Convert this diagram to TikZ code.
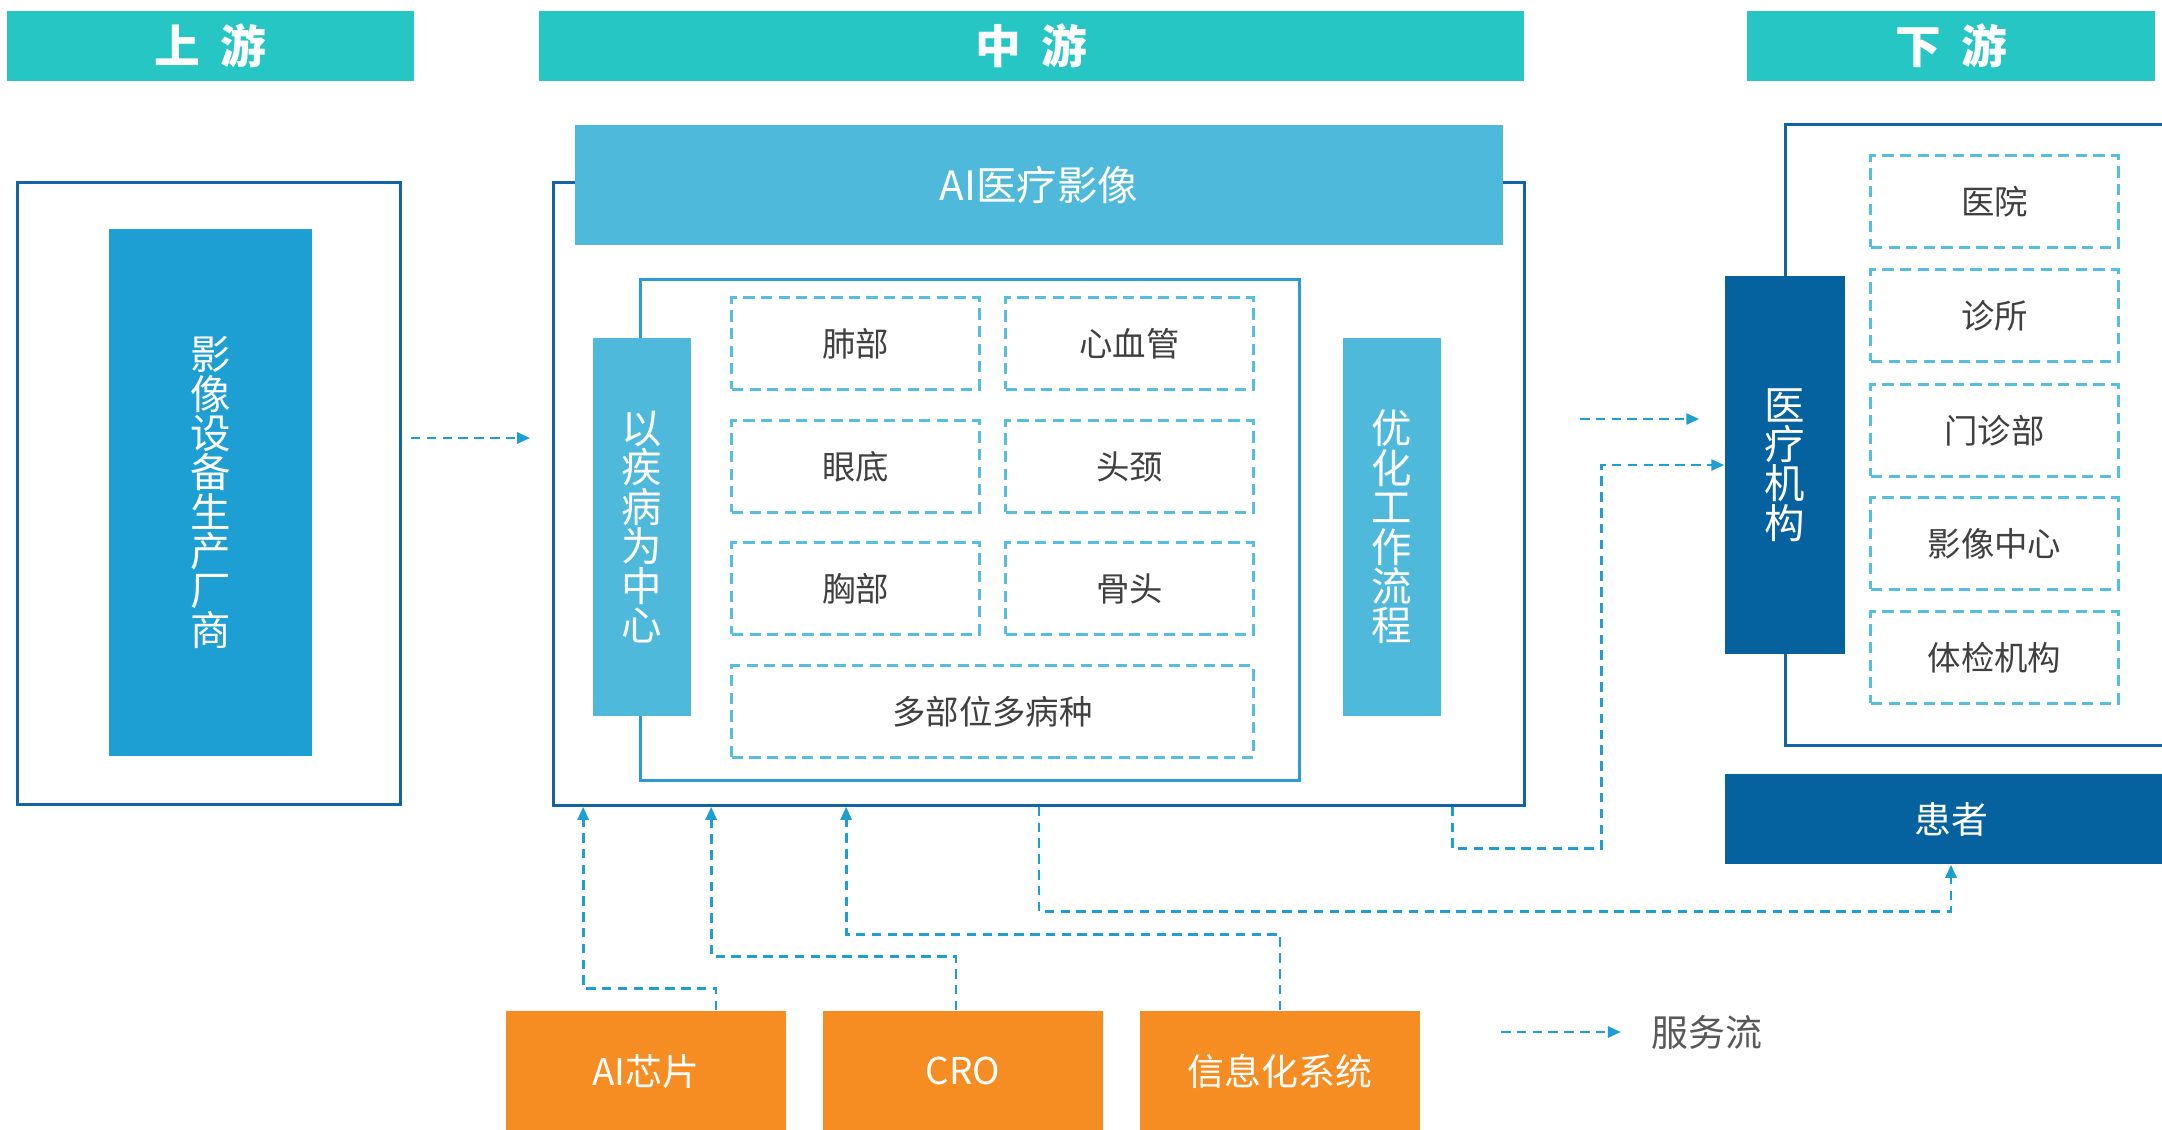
\documentclass[tikz,border=0pt]{standalone}
\usepackage{fontspec}
\setmainfont{Noto Sans CJK SC}
\usetikzlibrary{arrows.meta,positioning,calc}

\definecolor{tealhead}{RGB}{37,198,196}
\definecolor{makerblue}{RGB}{30,159,211}
\definecolor{lightblue}{RGB}{79,185,220}
\definecolor{darkblue}{RGB}{5,98,158}
\definecolor{frameblue}{RGB}{17,101,165}
\definecolor{innerblue}{RGB}{42,155,213}
\definecolor{dashblue}{RGB}{86,190,224}
\definecolor{flowblue}{RGB}{30,159,211}
\definecolor{chiporange}{RGB}{245,141,35}
\definecolor{boxgray}{RGB}{64,64,64}
\definecolor{legendgray}{RGB}{89,89,89}

\tikzset{
  flow/.style={draw=flowblue,line width=0.8pt,dash pattern=on 2.7pt off 1.8pt,
    -{Triangle[length=0.13cm,width=0.11cm]}},
  frame/.style={draw=frameblue,line width=0.9pt,inner sep=0},
  dashbox/.style={draw=dashblue,line width=0.85pt,dash pattern=on 3.2pt off 1.8pt,
    minimum width=2.47cm,minimum height=0.91cm,inner sep=0,text=boxgray,
    font=\fontsize{9.5}{9.5}\selectfont},
  vbar/.style={inner sep=0,text=white,align=center,
    font=\fontsize{11.5}{11.2}\selectfont},
}

\begin{document}
\begin{tikzpicture}[x=0.01cm,y=-0.01cm]
  \useasboundingbox (0,0) rectangle (2162,1129);
  \clip (0,0) rectangle (2162,1129);
  \fill[white] (0,0) rectangle (2162,1129);

  \begin{scope}[every node/.style={fill=tealhead,text=white,inner sep=0,minimum height=0.7cm,
      font=\bfseries\fontsize{13}{13}\selectfont}]
  \node[minimum width=4.07cm] (uphead) at (210.5,46) {上\hspace{0.45em}游};
  \node[minimum width=9.85cm] (midhead) at (1031.5,46) {中\hspace{0.45em}游};
  \node[minimum width=4.08cm] (downhead) at (1951,46) {下\hspace{0.45em}游};
  \end{scope}

  % upstream
  \node[frame,minimum width=3.82cm,minimum height=6.21cm] (upframe) at (209,493.5) {};
  \node[vbar,fill=makerblue,minimum width=2.03cm,minimum height=5.27cm] (maker) at (210.5,492.5)
    {影\\像\\设\\备\\生\\产\\厂\\商};

  % midstream
  \node[frame,minimum width=9.70cm,minimum height=6.22cm] (midframe) at (1039,494) {};
  \node[fill=lightblue,text=white,minimum width=9.28cm,minimum height=1.20cm,inner sep=0,
    font=\fontsize{11.5}{11.5}\selectfont] (banner) at (1039,185) {AI医疗影像};
  \node[draw=innerblue,line width=0.8pt,minimum width=6.58cm,minimum height=5.00cm,inner sep=0]
    (inner) at (970,530) {};
  \node[vbar,fill=lightblue,minimum width=0.98cm,minimum height=3.78cm] (disease) at (642,527)
    {以\\疾\\病\\为\\中\\心};
  \node[vbar,fill=lightblue,minimum width=0.98cm,minimum height=3.78cm] (workflow) at (1392,527)
    {优\\化\\工\\作\\流\\程};
  \begin{scope}[every node/.style={dashbox}]
  \node (lung) at (855.5,343.5) {肺部};
  \node (heart) at (1129.5,343.5) {心血管};
  \node (fundus) at (855.5,466.5) {眼底};
  \node (headneck) at (1129.5,466.5) {头颈};
  \node (chest) at (855.5,588.5) {胸部};
  \node (bone) at (1129.5,588.5) {骨头};
  \node[minimum width=5.21cm] (multi) at (992.5,711.5) {多部位多病种};
  \end{scope}

  % downstream
  \node[frame,minimum width=3.89cm,minimum height=6.20cm] (downframe) at (1980.5,435) {};
  \node[vbar,fill=darkblue,minimum width=1.20cm,minimum height=3.78cm] (inst) at (1785,465)
    {医\\疗\\机\\构};
  \begin{scope}[every node/.style={dashbox}]
  \node (hospital) at (1994.5,201.5) {医院};
  \node (clinic) at (1994.5,315.5) {诊所};
  \node (outpatient) at (1994.5,430.5) {门诊部};
  \node (imgcenter) at (1994.5,543.5) {影像中心};
  \node (checkup) at (1994.5,657.5) {体检机构};
  \end{scope}
  \node[fill=darkblue,text=white,minimum width=4.52cm,minimum height=0.90cm,inner sep=0,
    font=\fontsize{10.5}{10.5}\selectfont] (patient) at (1951,819) {患者};

  % suppliers
  \begin{scope}[every node/.style={fill=chiporange,text=white,minimum width=2.80cm,
      minimum height=1.20cm,inner sep=0,font=\fontsize{10.5}{10.5}\selectfont}]
  \node (chip) at (646,1071) {AI芯片};
  \node (cro) at (963,1071) {CRO};
  \node (info) at (1280,1071) {信息化系统};
  \end{scope}

  % flows
  \coordinate (upout) at (411,438);
  \coordinate (midout) at (1580,419);
  \draw[flow] (upout) -- ($(upout -| midframe.west)+(-22,0)$);
  \draw[flow] (midout) -- ($(midout -| inst.west)+(-25,0)$);
  \draw[flow] ([xshift=4.13cm]midframe.south) -- ++(0,42) -- ++(149,0) |- (inst.west);
  \draw[flow] (midframe.south) -- ++(0,105) -| (patient.south);
  \draw[flow] ([xshift=0.70cm]chip.north) -- ++(0,-22) -| ($(midframe.south west)+(31,0)$);
  \draw[flow] ([xshift=-0.07cm]cro.north) -- ++(0,-54) -| ($(midframe.south west)+(159,0)$);
  \draw[flow] (info.north) -- ++(0,-76) -| ($(midframe.south west)+(294,0)$);

  % legend
  \coordinate (legstart) at (1501,1032);
  \node[text=legendgray,inner sep=0,font=\fontsize{10.5}{10.5}\selectfont] (legtext) at (1707,1032) {服务流};
  \draw[flow] (legstart) -- ($(legtext.west)+(-30,0)$);
\end{tikzpicture}
\end{document}
